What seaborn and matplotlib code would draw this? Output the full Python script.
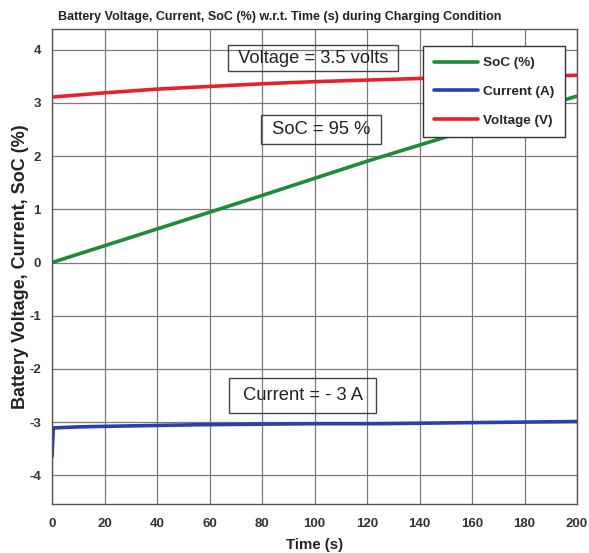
import numpy as np
import pandas as pd
import matplotlib
matplotlib.use("Agg")
import matplotlib.pyplot as plt
import seaborn as sns

# Data
time_v = [0, 20, 40, 60, 80, 100, 120, 140, 160, 180, 200]
voltage = [3.11, 3.19, 3.26, 3.31, 3.36, 3.40, 3.43, 3.46, 3.48, 3.50, 3.52]

time_soc = [0, 40, 80, 121, 160, 200]
soc = [0.0, 0.63, 1.26, 1.92, 2.51, 3.13]

time_i = [0, 0.5, 10, 20, 56, 100, 125, 160, 200]
current = [-3.65, -3.11, -3.09, -3.08, -3.05, -3.03, -3.03, -3.01, -2.99]

title = "Battery Voltage, Current, SoC (%) w.r.t. Time (s) during Charging Condition"
xlabel = "Time (s)"
ylabel = "Battery Voltage, Current, SoC (%)"
labels = ["SoC (%)", "Current (A)", "Voltage (V)"]
notes = ["Voltage = 3.5 volts", "SoC = 95 %", "Current = - 3 A"]

sns.set_style("whitegrid")
plt.rcParams['font.family'] = ['Liberation Sans', 'DejaVu Sans']
plt.rcParams['axes.unicode_minus'] = False

fig = plt.figure(figsize=(5.89, 5.53), dpi=100)
ax = fig.add_axes([52/589, 1-504/553, 525/589, 475/553])

green = "#1e8a3c"
blue = "#2b3fae"
red = "#e8202a"

df_soc = pd.DataFrame({"t": time_soc, "v": soc})
df_i = pd.DataFrame({"t": time_i, "v": current})
df_v = pd.DataFrame({"t": time_v, "v": voltage})

sns.lineplot(data=df_soc, x="t", y="v", ax=ax, color=green, lw=2.6, label=labels[0])
sns.lineplot(data=df_i, x="t", y="v", ax=ax, color=blue, lw=2.6, label=labels[1])
sns.lineplot(data=df_v, x="t", y="v", ax=ax, color=red, lw=2.6, label=labels[2])

ax.set_xlim(0, 200)
ax.set_ylim(-4.54, 4.39)
ax.set_xticks(np.arange(0, 201, 20))
ax.set_yticks(np.arange(-4, 5, 1))
ax.grid(True, color="#7a7a7a", lw=0.9)
for s in ax.spines.values():
    s.set_color("#555555")
    s.set_linewidth(1.0)
ax.tick_params(axis="both", labelsize=9.5, colors="#333333", length=0)
ax.tick_params(axis="x", pad=10)
ax.tick_params(axis="y", pad=8)
for lab in ax.get_xticklabels() + ax.get_yticklabels():
    lab.set_fontweight("bold")

ax.set_xlabel(xlabel, fontsize=10.8, fontweight="bold", color="#222222", labelpad=6)
ax.set_ylabel(ylabel, fontsize=13, fontweight="bold", color="#222222", labelpad=0)

fig.text(280/589, 1-17/553, title, ha="center", va="center", fontsize=9.0,
         fontweight="bold", color="#222222")

def box(pad):
    return dict(boxstyle=f"square,pad={pad}", facecolor="none", edgecolor="#444444", lw=1.0)

ax.text(99.4, 3.84, " " + notes[0] + " ", ha="center", va="center", fontsize=13.2,
        color="#222222", bbox=box(0.25))
ax.text(102.5, 2.5, " " + notes[1] + " ", ha="center", va="center", fontsize=13.2,
        color="#222222", bbox=box(0.32))
ax.text(95.5, -2.5, " " + notes[2] + " ", ha="center", va="center", fontsize=13.2,
        color="#222222", bbox=box(0.5))

leg = ax.legend(loc="upper left", bbox_to_anchor=(0.7067, 0.964), frameon=True,
                fancybox=False, edgecolor="#333333", framealpha=1,
                prop={"weight": "bold", "size": 9.7}, handlelength=3.3,
                labelspacing=1.2, borderpad=0.8, handletextpad=0.35,
                borderaxespad=0)
leg.get_frame().set_linewidth(1.0)

fig.savefig("out.png", dpi=100)
